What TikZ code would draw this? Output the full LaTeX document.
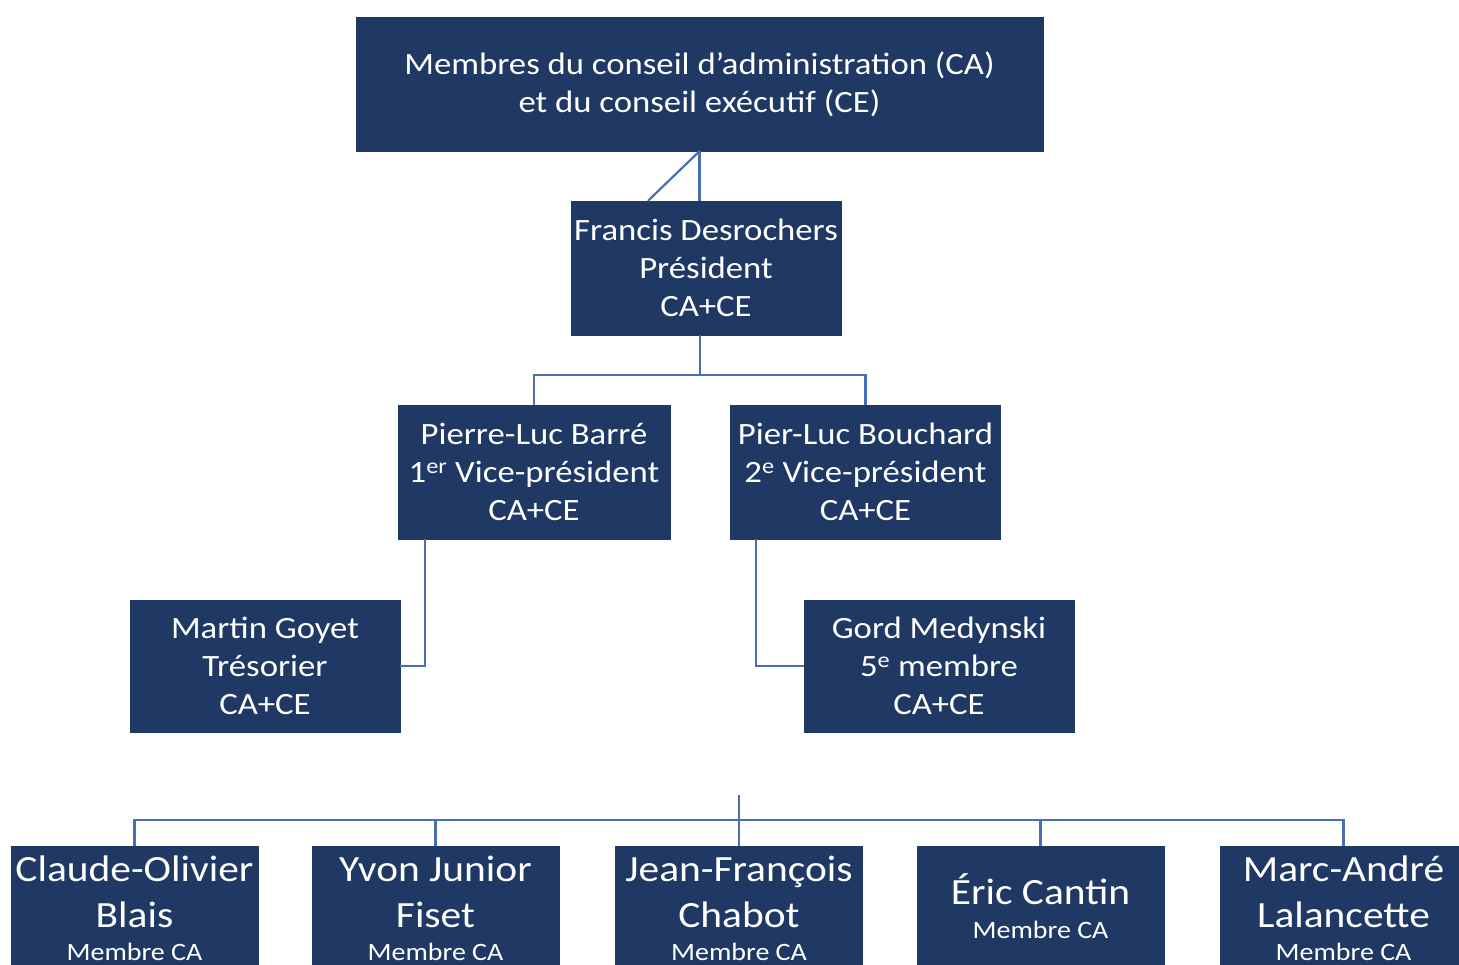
\documentclass[tikz,border=0pt]{standalone}
\usepackage{fontspec}
\setmainfont{Carlito}[FakeStretch=1.12]
\definecolor{navy}{RGB}{31,56,100}
\definecolor{linkblue}{RGB}{72,110,180}
\begin{document}
\begin{tikzpicture}[x=1pt,y=-1pt,
  box/.style={fill=navy,draw=navy,text=white,align=center,inner sep=0pt,
    font=\fontsize{31}{38}\selectfont},
  bigbox/.style={box,minimum width=270pt,minimum height=134pt},
  lowbox/.style={fill=navy,draw=navy,text=white,align=center,inner sep=0pt,
    minimum width=247pt,minimum height=124pt,font=\fontsize{37}{46}\selectfont},
  lowtext/.style={text=white,align=center,inner sep=0pt,font=\fontsize{37}{46}\selectfont},
  conn/.style={draw=linkblue,line width=2.2pt}]
\useasboundingbox (0,0) rectangle (1459,964);
\clip (0,0) rectangle (1459,964);
\node[box,minimum width=687pt,minimum height=134pt] (top) at (699.5,84)
  {Membres du conseil d’administration (CA)\\et du conseil exécutif (CE)};
\node[bigbox] (pres) at (706,268) {Francis Desrochers\\Président\\CA+CE};
\node[bigbox,minimum width=272pt] (pl1) at (534,472) {Pierre-Luc Barré\\1\textsuperscript{er} Vice-président\\CA+CE};
\node[bigbox] (pl2) at (865.5,472) {Pier-Luc Bouchard\\2\textsuperscript{e} Vice-président\\CA+CE};
\node[bigbox,minimum height=132pt] (martin) at (265,666) {Martin Goyet\\Trésorier\\CA+CE};
\node[bigbox,minimum height=132pt] (gord) at (939,666) {Gord Medynski\\5\textsuperscript{e} membre\\CA+CE};
\node[lowbox] (claude) at (134.5,908) {Claude-Olivier\\Blais\\[-13pt]{\fontsize{25}{30}\selectfont Membre CA}};
\node[lowbox] (yvon) at (435.5,908) {Yvon Junior\\Fiset\\[-13pt]{\fontsize{25}{30}\selectfont Membre CA}};
\node[lowbox] (jean) at (739,908) {Jean-François\\Chabot\\[-13pt]{\fontsize{25}{30}\selectfont Membre CA}};
\node[lowbox] (eric) at (1040.5,908) {};
\node[lowtext] (erictxt) at (1040.5,906) {Éric Cantin\\[-12pt]{\fontsize{25}{30}\selectfont Membre CA}};
\node[lowbox] (marc) at (1343.5,908) {Marc-André\\Lalancette\\[-13pt]{\fontsize{25}{30}\selectfont Membre CA}};
% connectors
\draw[conn] (top.south) -- (pres.north -| top.south);
\draw[conn] (top.south) -- ([xshift=-58pt]pres.north);
\coordinate (j2) at (700,375);
\draw[conn] (pres.south -| j2) -- (j2);
\draw[conn] (pl1.north) |- (j2) -| (pl2.north);
\draw[conn] ([xshift=-109pt]pl1.south) |- (martin.east);
\draw[conn] ([xshift=-109.5pt]pl2.south) |- (gord.west);
\coordinate (b0) at (739,795);
\coordinate (b1) at (739,820);
\draw[conn] (b0) -- (jean.north);
\draw[conn] (claude.north) |- (b1) -| (marc.north);
\draw[conn] (yvon.north) -- (yvon.north |- b1);
\draw[conn] (eric.north) -- (eric.north |- b1);
\end{tikzpicture}
\end{document}
